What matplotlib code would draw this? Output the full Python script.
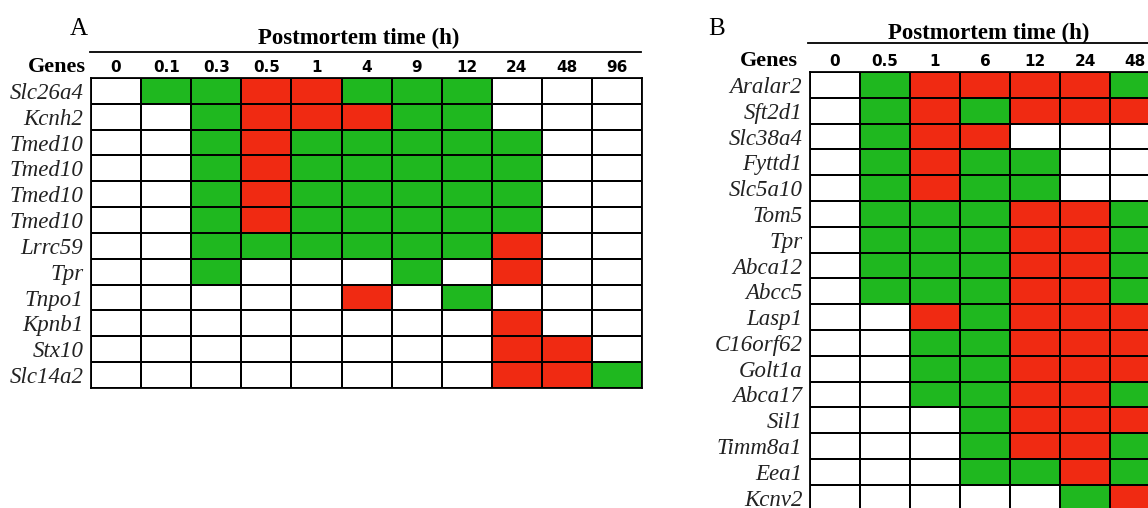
import matplotlib
matplotlib.use("Agg")
import matplotlib.pyplot as plt
from matplotlib.colors import ListedColormap
import numpy as np

# ---------------- data ----------------
# 0 = no change (white), 1 = green, 2 = red
times_a = ["0", "0.1", "0.3", "0.5", "1", "4", "9", "12", "24", "48", "96"]
genes_a = ["Slc26a4", "Kcnh2", "Tmed10", "Tmed10", "Tmed10", "Tmed10",
           "Lrrc59", "Tpr", "Tnpo1", "Kpnb1", "Stx10", "Slc14a2"]
status_a = [
    [0, 1, 1, 2, 2, 1, 1, 1, 0, 0, 0],
    [0, 0, 1, 2, 2, 2, 1, 1, 0, 0, 0],
    [0, 0, 1, 2, 1, 1, 1, 1, 1, 0, 0],
    [0, 0, 1, 2, 1, 1, 1, 1, 1, 0, 0],
    [0, 0, 1, 2, 1, 1, 1, 1, 1, 0, 0],
    [0, 0, 1, 2, 1, 1, 1, 1, 1, 0, 0],
    [0, 0, 1, 1, 1, 1, 1, 1, 2, 0, 0],
    [0, 0, 1, 0, 0, 0, 1, 0, 2, 0, 0],
    [0, 0, 0, 0, 0, 2, 0, 1, 0, 0, 0],
    [0, 0, 0, 0, 0, 0, 0, 0, 2, 0, 0],
    [0, 0, 0, 0, 0, 0, 0, 0, 2, 2, 0],
    [0, 0, 0, 0, 0, 0, 0, 0, 2, 2, 1],
]

times_b = ["0", "0.5", "1", "6", "12", "24", "48"]
genes_b = ["Aralar2", "Sft2d1", "Slc38a4", "Fyttd1", "Slc5a10", "Tom5", "Tpr",
           "Abca12", "Abcc5", "Lasp1", "C16orf62", "Golt1a", "Abca17", "Sil1",
           "Timm8a1", "Eea1", "Kcnv2"]
status_b = [
    [0, 1, 2, 2, 2, 2, 1],
    [0, 1, 2, 1, 2, 2, 2],
    [0, 1, 2, 2, 0, 0, 0],
    [0, 1, 2, 1, 1, 0, 0],
    [0, 1, 2, 1, 1, 0, 0],
    [0, 1, 1, 1, 2, 2, 1],
    [0, 1, 1, 1, 2, 2, 1],
    [0, 1, 1, 1, 2, 2, 1],
    [0, 1, 1, 1, 2, 2, 1],
    [0, 0, 2, 1, 2, 2, 2],
    [0, 0, 1, 1, 2, 2, 2],
    [0, 0, 1, 1, 2, 2, 2],
    [0, 0, 1, 1, 2, 2, 1],
    [0, 0, 0, 1, 2, 2, 2],
    [0, 0, 0, 1, 2, 2, 1],
    [0, 0, 0, 1, 1, 2, 1],
    [0, 0, 0, 0, 0, 1, 2],
]

# ---------------- style ----------------
W, H = 1148, 508
GREEN = "#1fb81f"
RED = "#f02a12"
cmap = ListedColormap(["white", GREEN, RED])
SERIF = "Liberation Serif"
SANS = "DejaVu Sans"

fig = plt.figure(figsize=(W / 100, H / 100), dpi=100)
fig.patch.set_facecolor("white")


def panel(left, top, colw, rowh, times, genes, status, letter, letter_xy,
          title_x, title_dy, line_dy, line_x0, line_x1, genes_right):
    nr, nc = len(genes), len(times)
    wpx, hpx = colw * nc, rowh * nr
    ax = fig.add_axes([left / W, (H - top - hpx) / H, wpx / W, hpx / H])
    data = np.array(status)
    ax.pcolormesh(np.arange(nc + 1), np.arange(nr + 1), data, cmap=cmap,
                  vmin=-0.5, vmax=2.5, edgecolors="black", linewidth=1.3)
    ax.set_xlim(0, nc)
    ax.set_ylim(nr, 0)
    for s in ax.spines.values():
        s.set_linewidth(1.3)
        s.set_color("black")
    ax.xaxis.tick_top()
    ax.set_xticks(np.arange(nc) + 0.5)
    ax.set_xticklabels(times, fontfamily=SANS, fontweight="bold", fontsize=11)
    ax.set_yticks(np.arange(nr) + 0.5)
    ax.set_yticklabels(genes, fontfamily=SERIF, fontstyle="italic",
                       fontsize=16.5, color="#222222")
    ax.tick_params(axis="x", length=0, pad=2.5)
    ax.tick_params(axis="y", length=0, pad=5.5)

    fx = lambda px: (px - left) / wpx
    fy = lambda dy: 1 + dy / hpx  # dy pixels above the grid top
    ax.text(fx(title_x), fy(title_dy), "Postmortem time (h)",
            transform=ax.transAxes, ha="center", va="center",
            fontfamily=SERIF, fontweight="bold", fontsize=16.5)
    ax.plot([fx(line_x0), fx(line_x1)], [fy(line_dy), fy(line_dy)],
            transform=ax.transAxes, color="black", linewidth=1.3, clip_on=False)
    ax.text(fx(genes_right), fy(11), "Genes", transform=ax.transAxes,
            ha="right", va="center", fontfamily=SERIF, fontweight="bold",
            fontsize=16)
    ax.text(fx(letter_xy[0]), fy(top - letter_xy[1]), letter,
            transform=ax.transAxes, ha="center", va="center",
            fontfamily=SERIF, fontsize=18)
    return ax


panel(91, 78, 50.1, 25.83, times_a, genes_a, status_a, "A", (79, 29),
      title_x=359, title_dy=40, line_dy=26, line_x0=90, line_x1=641,
      genes_right=86)
panel(810, 72, 50.0, 25.8, times_b, genes_b, status_b, "B", (717, 29),
      title_x=989, title_dy=39, line_dy=29, line_x0=808, line_x1=1160,
      genes_right=798)

fig.savefig("out.png", dpi=100, facecolor="white")
